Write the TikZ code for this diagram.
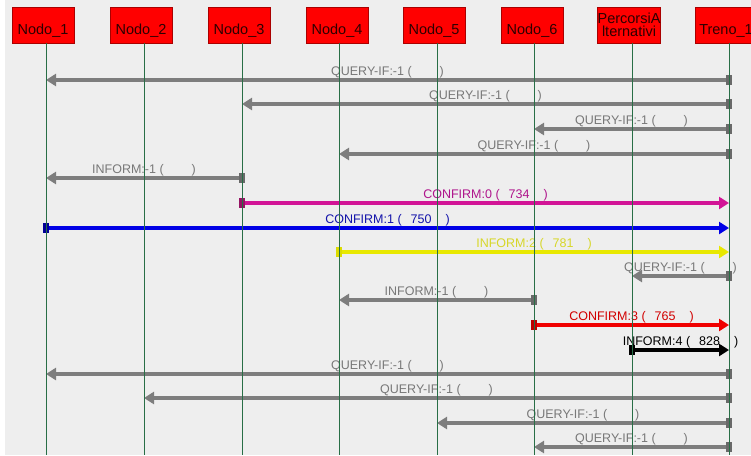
\documentclass[tikz,border=0pt]{standalone}
\usepackage{fontspec}
\setmainfont{Liberation Sans}
\usetikzlibrary{arrows.meta,calc}
\definecolor{bg}{RGB}{238,238,238}
\definecolor{hdfill}{RGB}{255,0,0}
\definecolor{hdborder}{RGB}{170,0,0}
\definecolor{hdtext}{RGB}{45,0,0}
\definecolor{lifec}{RGB}{40,110,70}
\definecolor{gline}{RGB}{125,125,125}
\definecolor{gmark}{RGB}{105,105,105}
\definecolor{gtext}{RGB}{120,120,120}
\definecolor{mline}{RGB}{210,20,150}
\definecolor{mmark}{RGB}{150,20,100}
\definecolor{mtext}{RGB}{175,20,140}
\definecolor{bline}{RGB}{0,0,230}
\definecolor{bmark}{RGB}{0,0,150}
\definecolor{btext}{RGB}{20,20,170}
\definecolor{yline}{RGB}{232,232,0}
\definecolor{ymark}{RGB}{220,220,0}
\definecolor{ytext}{RGB}{215,215,40}
\definecolor{rline}{RGB}{240,0,0}
\definecolor{rmark}{RGB}{190,0,0}
\definecolor{rtext}{RGB}{210,0,0}
\newcommand\qgap{\hspace{28pt}}
\newcommand\seqmsg[7]{%
  \draw[msgline,draw=#4] (#2 |- 0,#1) -- (#3 |- 0,#1);
  \fill[#5] ($(#2 |- 0,#1)+(-3,-5)$) rectangle +(6,10);
  \node[msglabel,text=#6] at ($(#2 |- 0,#1)!0.5!(#3 |- 0,#1)+(0,-5)$) {#7};
}
\begin{document}
\begin{tikzpicture}[x=1pt,y=-1pt,
  head/.style={draw=hdborder,fill=hdfill,text=hdtext,minimum width=62pt,minimum height=36pt,inner sep=0pt,
    font=\fontsize{14.5}{16}\selectfont},
  headtxt/.style={head,text height=20pt,text depth=2pt},
  life/.style={draw=lifec,line width=1pt},
  msgline/.style={line width=4pt,-{Triangle[length=10pt,width=12pt]}},
  msglabel/.style={anchor=base,inner sep=0pt,font=\fontsize{12.5}{14}\selectfont}]
\useasboundingbox (0,0) rectangle (751,455);
\clip (0,0) rectangle (751,455);
\fill[bg] (0,0) rectangle (751,455);
\fill[white] (0,0) rectangle (5,455);
% heads
\node[headtxt] (N1) at (43,25) {Nodo\_1};
\node[headtxt] (N2) at (141,25) {Nodo\_2};
\node[headtxt] (N3) at (239,25) {Nodo\_3};
\node[headtxt] (N4) at (337,25) {Nodo\_4};
\node[headtxt] (N5) at (434,25) {Nodo\_5};
\node[headtxt] (N6) at (532,25) {Nodo\_6};
\node[head,align=center,font=\fontsize{14.5}{13}\selectfont] (N7) at (629,25) {PercorsiA\\lternativi};
\node[headtxt] (N8) at (726,25) {Treno\_1};
\coordinate (L1) at (46,43);
\coordinate (L2) at (144,43);
\coordinate (L3) at (242,43);
\coordinate (L4) at (339,43);
\coordinate (L5) at (437,43);
\coordinate (L6) at (534,43);
\coordinate (L7) at (632,43);
\coordinate (L8) at (729,43);
% messages
\seqmsg{80}{L8}{L1}{gline}{gmark}{gtext}{QUERY-IF:-1 (\qgap)}
\seqmsg{104}{L8}{L3}{gline}{gmark}{gtext}{QUERY-IF:-1 (\qgap)}
\seqmsg{129}{L8}{L6}{gline}{gmark}{gtext}{QUERY-IF:-1 (\qgap)}
\seqmsg{154}{L8}{L4}{gline}{gmark}{gtext}{QUERY-IF:-1 (\qgap)}
\seqmsg{178}{L3}{L1}{gline}{gmark}{gtext}{INFORM:-1 (\qgap)}
\seqmsg{203}{L3}{L8}{mline}{mmark}{mtext}{CONFIRM:0 (\hspace{9pt}734\hspace{14pt})}
\seqmsg{228}{L1}{L8}{bline}{bmark}{btext}{CONFIRM:1 (\hspace{9pt}750\hspace{14pt})}
\seqmsg{252}{L4}{L8}{yline}{ymark}{ytext}{INFORM:2 (\hspace{9pt}781\hspace{14pt})}
\seqmsg{276}{L8}{L7}{gline}{gmark}{gtext}{QUERY-IF:-1 (\qgap)}
\seqmsg{300}{L6}{L4}{gline}{gmark}{gtext}{INFORM:-1 (\qgap)}
\seqmsg{325}{L6}{L8}{rline}{rmark}{rtext}{CONFIRM:3 (\hspace{9pt}765\hspace{14pt})}
\seqmsg{350}{L7}{L8}{black}{black}{black}{INFORM:4 (\hspace{9pt}828\hspace{14pt})}
\seqmsg{374}{L8}{L1}{gline}{gmark}{gtext}{QUERY-IF:-1 (\qgap)}
\seqmsg{398}{L8}{L2}{gline}{gmark}{gtext}{QUERY-IF:-1 (\qgap)}
\seqmsg{423}{L8}{L5}{gline}{gmark}{gtext}{QUERY-IF:-1 (\qgap)}
\seqmsg{447}{L8}{L6}{gline}{gmark}{gtext}{QUERY-IF:-1 (\qgap)}
% lifelines
\foreach \n in {L1,L2,L3,L4,L5,L6,L7,L8}
  \draw[life] (\n) -- (\n |- 0,455);
\end{tikzpicture}
\end{document}
